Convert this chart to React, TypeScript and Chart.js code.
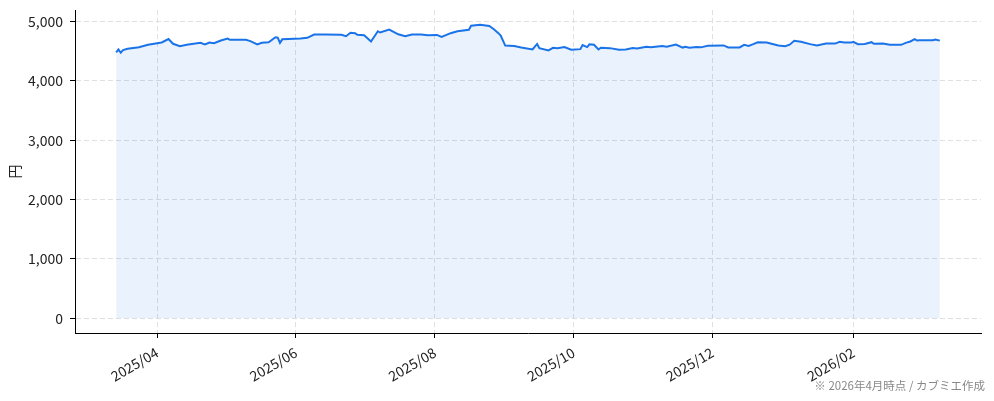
import React, { useEffect, useRef } from "react";
import { Chart, registerables } from "chart.js";

Chart.register(...registerables);

// daily price (円)
const DATES = [
  "2025-03-14", "2025-03-15", "2025-03-16", "2025-03-17", "2025-03-19", "2025-03-24", "2025-03-28",
  "2025-04-03", "2025-04-06", "2025-04-08", "2025-04-11", "2025-04-14", "2025-04-20", "2025-04-22",
  "2025-04-24", "2025-04-26", "2025-04-29", "2025-05-02", "2025-05-03", "2025-05-10", "2025-05-12",
  "2025-05-15", "2025-05-17", "2025-05-20", "2025-05-23", "2025-05-24", "2025-05-25", "2025-05-26",
  "2025-06-03", "2025-06-06", "2025-06-09", "2025-06-14", "2025-06-21", "2025-06-23", "2025-06-25",
  "2025-06-27", "2025-06-28", "2025-07-01", "2025-07-04", "2025-07-07", "2025-07-08", "2025-07-12",
  "2025-07-16", "2025-07-19", "2025-07-22", "2025-07-26", "2025-07-29", "2025-08-02", "2025-08-04",
  "2025-08-08", "2025-08-11", "2025-08-16", "2025-08-17", "2025-08-21", "2025-08-25", "2025-08-27",
  "2025-08-29", "2025-08-30", "2025-09-01", "2025-09-05", "2025-09-08", "2025-09-13", "2025-09-15",
  "2025-09-16", "2025-09-20", "2025-09-22", "2025-09-24", "2025-09-27", "2025-09-30", "2025-10-04",
  "2025-10-05", "2025-10-07", "2025-10-08", "2025-10-10", "2025-10-12", "2025-10-13", "2025-10-17",
  "2025-10-21", "2025-10-24", "2025-10-27", "2025-10-29", "2025-11-02", "2025-11-04", "2025-11-09",
  "2025-11-11", "2025-11-15", "2025-11-18", "2025-11-19", "2025-11-21", "2025-11-24", "2025-11-26",
  "2025-11-29", "2025-12-06", "2025-12-08", "2025-12-13", "2025-12-15", "2025-12-17", "2025-12-19",
  "2025-12-21", "2025-12-25", "2025-12-27", "2025-12-30", "2026-01-02", "2026-01-04", "2026-01-06",
  "2026-01-09", "2026-01-13", "2026-01-16", "2026-01-20", "2026-01-24", "2026-01-26", "2026-01-28",
  "2026-01-31", "2026-02-01", "2026-02-03", "2026-02-06", "2026-02-09", "2026-02-10", "2026-02-14",
  "2026-02-17", "2026-02-22", "2026-02-24", "2026-02-26", "2026-02-28", "2026-03-01", "2026-03-02",
  "2026-03-08", "2026-03-09", "2026-03-11",
];

const PRICES = [
  4480, 4530, 4475, 4520, 4541, 4568, 4608,
  4647, 4705, 4625, 4585, 4608, 4641, 4613,
  4647, 4636, 4681, 4714, 4692, 4692, 4670,
  4613, 4641, 4652, 4736, 4730, 4640, 4700,
  4714, 4726, 4781, 4781, 4776, 4753, 4810,
  4804, 4776, 4770, 4664, 4837, 4815, 4865,
  4785, 4753, 4781, 4781, 4770, 4774, 4740,
  4804, 4837, 4862, 4930, 4947, 4925, 4870,
  4804, 4765, 4595, 4588, 4563, 4530, 4622,
  4552, 4513, 4558, 4552, 4569, 4524, 4535,
  4605, 4569, 4616, 4608, 4530, 4558, 4552,
  4524, 4530, 4552, 4545, 4575, 4565, 4586,
  4575, 4612, 4558, 4575, 4558, 4572, 4565,
  4591, 4597, 4563, 4563, 4608, 4590, 4619,
  4650, 4645, 4625, 4595, 4585, 4610, 4675,
  4660, 4619, 4595, 4630, 4628, 4658, 4645,
  4645, 4658, 4619, 4622, 4652, 4625, 4630,
  4608, 4608, 4640, 4664, 4703, 4680, 4686,
  4686, 4697, 4678,
];

const X_TICKS = ["2025-04-01", "2025-06-01", "2025-08-01", "2025-10-01", "2025-12-01", "2026-02-01"];
const Y_TICKS = [0, 1000, 2000, 3000, 4000, 5000];

const DAY = 86400000;
const toDay = (s: string) => {
  const [y, m, d] = s.split("-").map(Number);
  return Date.UTC(y, m - 1, d) / DAY;
};
const fmtMonth = (v: number) => {
  const d = new Date(v * DAY);
  return `${d.getUTCFullYear()}/${String(d.getUTCMonth() + 1).padStart(2, "0")}`;
};

const FONT = '"Noto Sans CJK JP", "Noto Sans", sans-serif';
const GRID = "#e0e0e0";

const PriceChart: React.FC = () => {
  const chartRef = useRef<HTMLCanvasElement>(null);

  useEffect(() => {
    document.body.style.margin = "0";
    if (!chartRef.current) return;
    const ctx = chartRef.current.getContext("2d");
    if (!ctx) return;

    const xs = DATES.map(toDay);
    const xLo = Math.min(...xs);
    const xHi = Math.max(...xs);
    const xPad = (xHi - xLo) * 0.05;
    const yHi = Math.max(...PRICES);
    const yPad = yHi * 0.05;

    const chart = new Chart(ctx, {
      type: "line",
      data: {
        datasets: [
          {
            data: xs.map((x, i) => ({ x, y: PRICES[i] })),
            borderColor: "#1a73e8",
            borderWidth: 2,
            backgroundColor: "rgba(26,115,232,0.09)",
            fill: "origin",
            pointRadius: 0,
            tension: 0,
          },
        ],
      },
      options: {
        animation: false,
        responsive: true,
        maintainAspectRatio: false,
        layout: { padding: { top: 10, right: 13, left: 0, bottom: 0 } },
        plugins: { legend: { display: false }, tooltip: { enabled: false } },
        scales: {
          x: {
            type: "linear",
            min: xLo - xPad,
            max: xHi + xPad,
            afterBuildTicks: (scale: any) => {
              scale.ticks = X_TICKS.map((s) => ({ value: toDay(s) }));
            },
            afterFit: (scale: any) => {
              scale.height = 68;
              scale.paddingLeft = 0;
              scale.paddingRight = 0;
            },
            ticks: {
              autoSkip: false,
              minRotation: 30,
              maxRotation: 30,
              padding: 6,
              color: "#222",
              font: { family: FONT, size: 14 },
              callback: (v: any) => fmtMonth(Number(v)),
            },
            grid: { color: GRID, lineWidth: 1, tickColor: "#000", tickLength: 5 },
            border: { color: "#000", width: 1, dash: [5, 3] },
          },
          y: {
            min: -yPad,
            max: yHi + yPad,
            afterBuildTicks: (scale: any) => {
              scale.ticks = Y_TICKS.map((value) => ({ value }));
            },
            afterFit: (scale: any) => {
              scale.width = 75;
              scale.paddingTop = 0;
              scale.paddingBottom = 0;
            },
            ticks: {
              padding: 7,
              color: "#222",
              font: { family: FONT, size: 14 },
              callback: (v: any) => Number(v).toLocaleString("en-US"),
            },
            title: {
              display: true,
              text: "円",
              color: "#222",
              font: { family: FONT, size: 14 },
              padding: { top: 6, bottom: 4 },
            },
            grid: { color: GRID, lineWidth: 1, tickColor: "#000", tickLength: 5 },
            border: { color: "#000", width: 1, dash: [5, 3] },
          },
        },
      },
    });

    return () => {
      chart.destroy();
    };
  }, []);

  return (
    <div style={{ position: "relative", width: 994, height: 401, background: "#fff" }}>
      <canvas ref={chartRef} />
      <div
        style={{
          position: "absolute",
          right: 9,
          top: 377,
          fontFamily: FONT,
          fontSize: 11.5,
          color: "#888",
          whiteSpace: "nowrap",
        }}
      >
        ※ 2026年4月時点 / カブミエ作成
      </div>
    </div>
  );
};

export default function App() {
  return <PriceChart />;
}
